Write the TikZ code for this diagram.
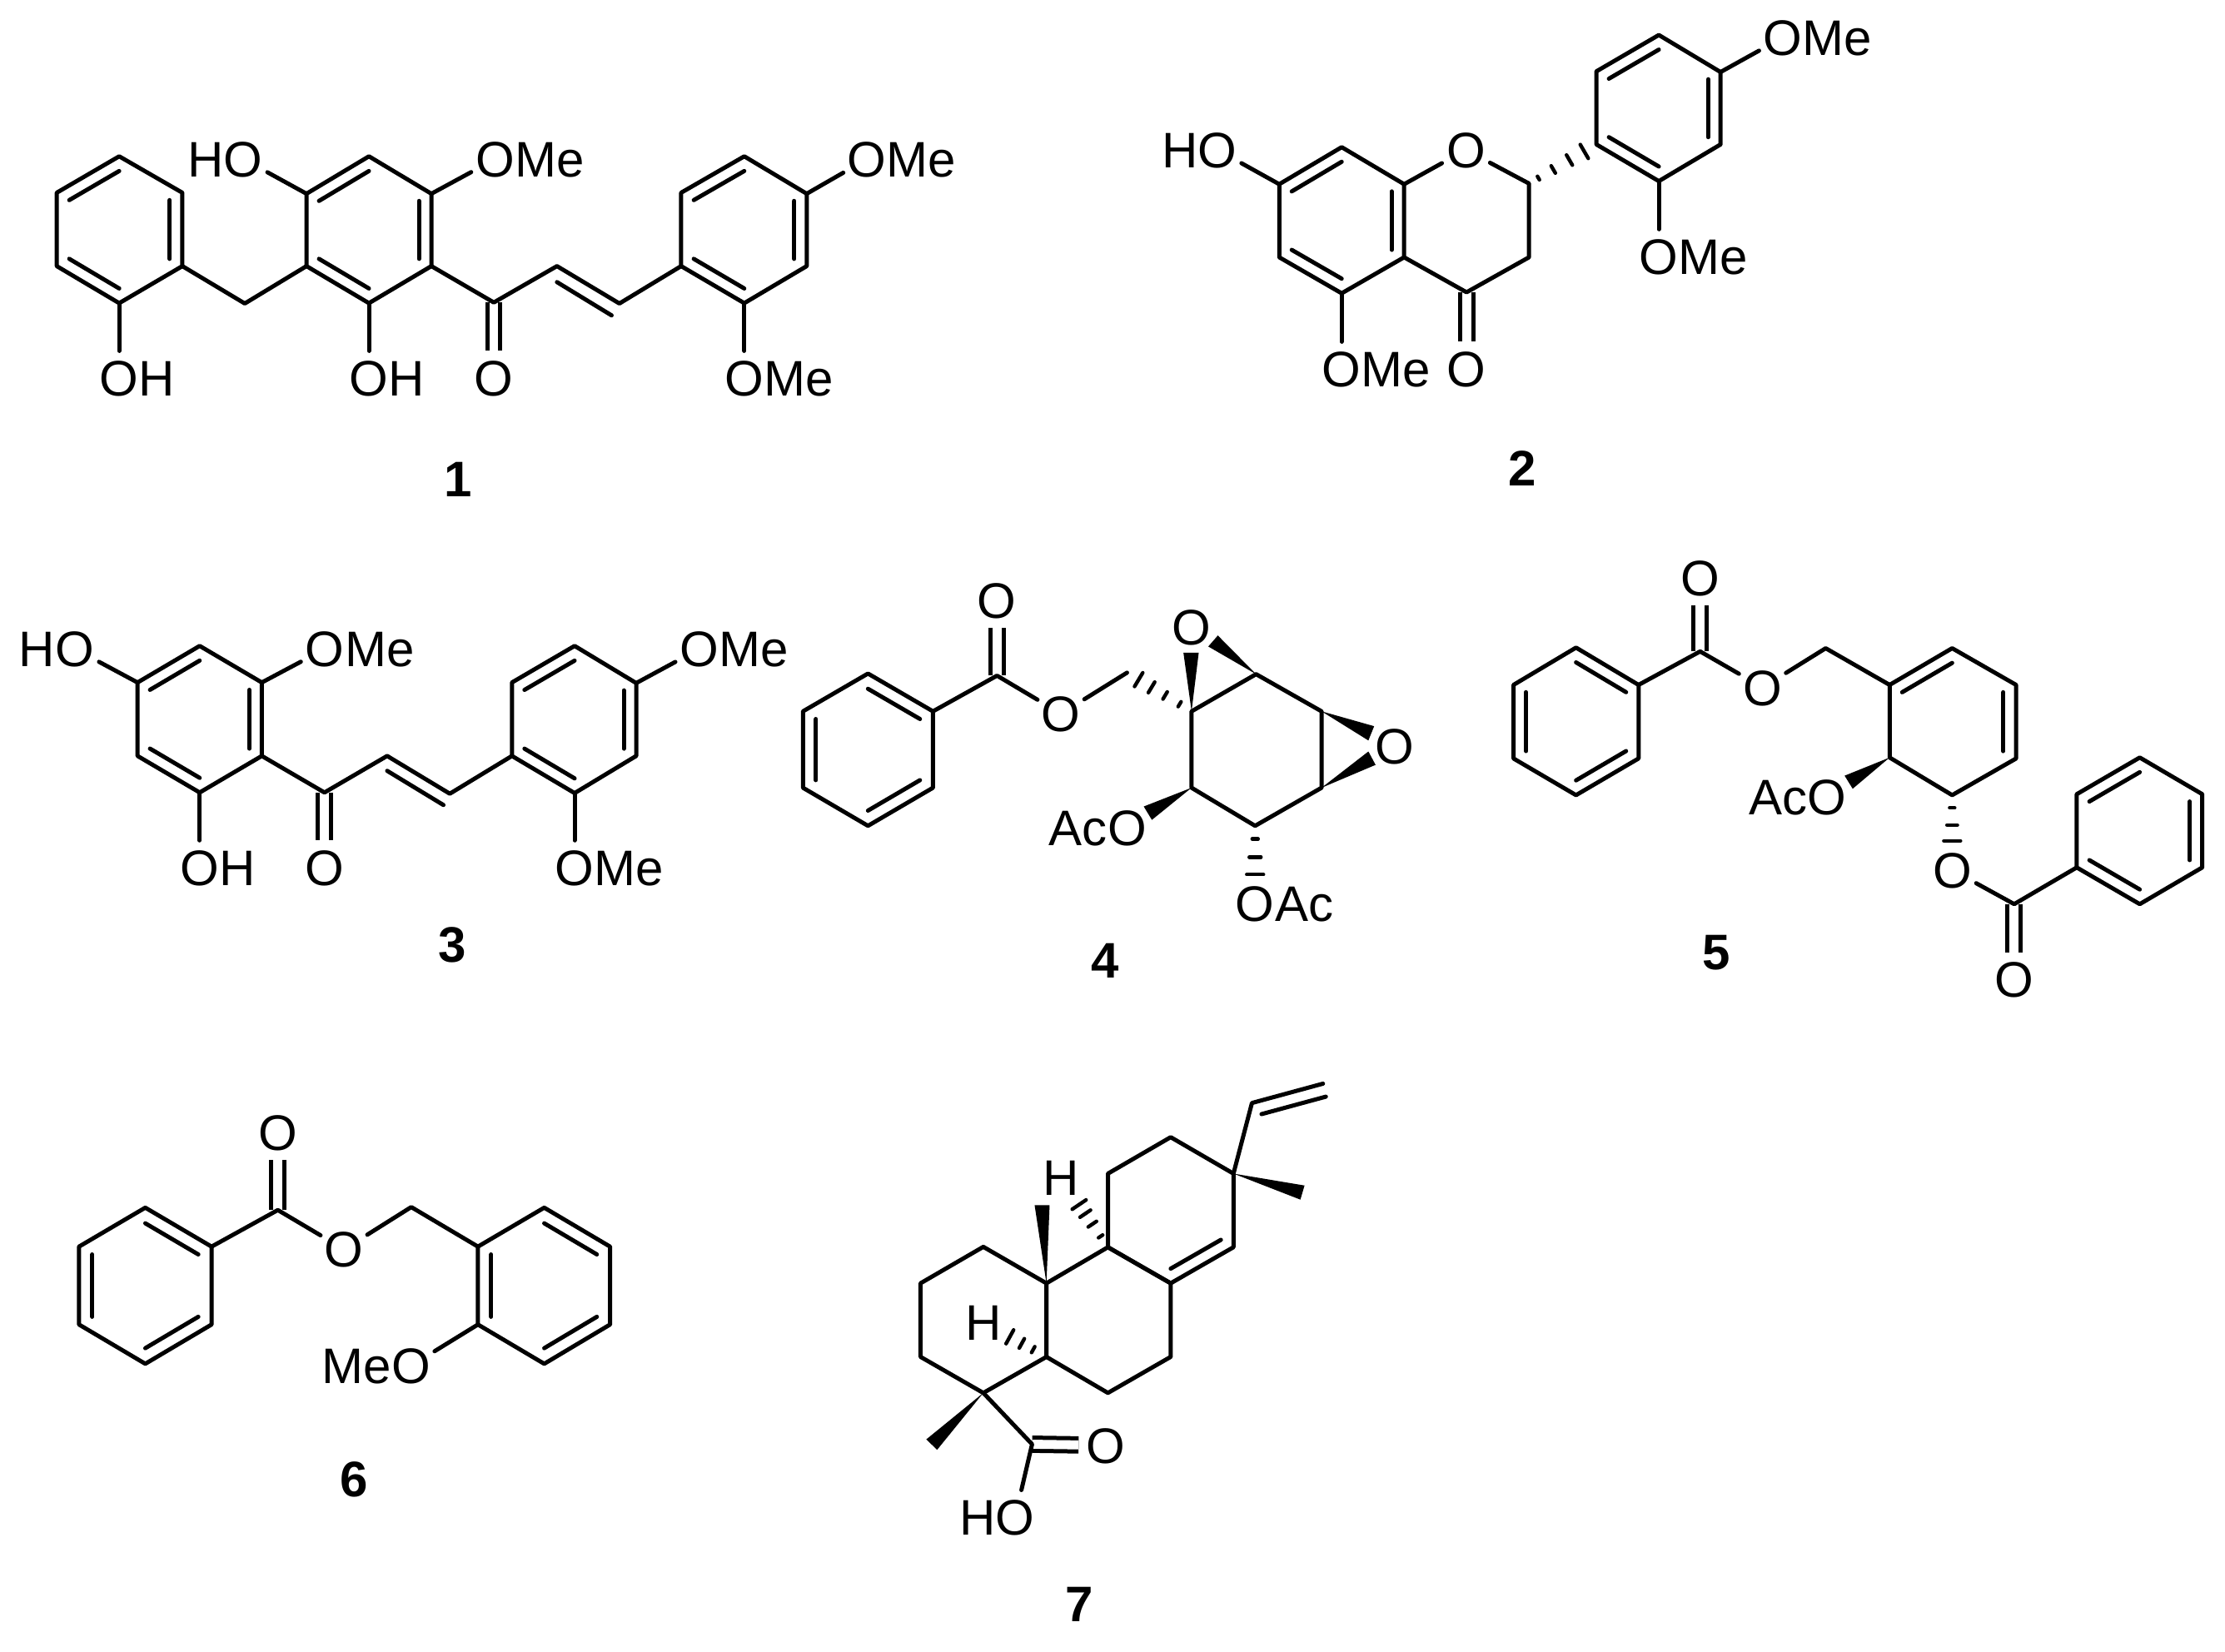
\documentclass[tikz,border=0pt]{standalone}
\usepackage{fontspec}
\setmainfont{Liberation Sans}
\usetikzlibrary{calc}
\tikzset{
  bond/.style={draw=black,line width=2.5pt,line cap=round,line join=round},
  hashstroke/.style={draw=black,line width=2.2pt,line cap=round},
  dblbond/.style={draw=black,line width=2.5pt,line cap=butt,double=white,double distance=5.4pt},
  atomlabel/.style={circle,inner sep=0pt,minimum size=32.5pt,text height=21.5pt,text depth=0pt,font=\fontsize{30pt}{36pt}\selectfont},
  suffixR/.style={anchor=base west,inner sep=0pt,font=\fontsize{30pt}{36pt}\selectfont},
  suffixL/.style={anchor=base east,inner sep=0pt,font=\fontsize{30pt}{36pt}\selectfont},
  numlabel/.style={inner sep=0pt,font=\fontsize{30pt}{36pt}\selectfont\bfseries}
}
% ring: prefix, then six vertices clockwise from a
\newcommand\ringat[7]{%
  \coordinate (#1a) at (#2);\coordinate (#1b) at (#3);\coordinate (#1c) at (#4);
  \coordinate (#1d) at (#5);\coordinate (#1e) at (#6);\coordinate (#1f) at (#7);
  \coordinate (#1m) at ($(#1a)!.5!(#1d)$);
  \draw[bond] (#1a)--(#1b)--(#1c)--(#1d)--(#1e)--(#1f)--cycle;}
\newcommand\inbond[3]{\draw[bond] ($(#1#2)!.2!(#1m)$)--($(#1#3)!.2!(#1m)$);}
\newcommand\hashbond[3]{\foreach \t/\w in {#3}{\draw[hashstroke] ($(#1)!\t!(#2)!\w!90:(#2)$)--($(#1)!\t!(#2)!\w!-90:(#2)$);}}
\newcommand\wedgebond[3]{\fill[black] (#1)--(#2)--(#3)--cycle;}
\newcommand\atomC[3]{\node[atomlabel] (#1) at (#2) {#3};}
\newcommand\atomR[4]{\node[atomlabel] (#1) at (#2) {#3};\node[suffixR] (#1s) at ([shift={(11.67pt,-10.75pt)}]#1.center) {#4};}
\newcommand\atomL[4]{\node[atomlabel] (#1) at (#2) {#3};\node[suffixL] (#1s) at ([shift={(-11.67pt,-10.75pt)}]#1.center) {#4};}
\begin{document}
\begin{tikzpicture}
\path[use as bounding box,fill=white] (0,0) rectangle (1336pt,-992pt);

% ---------- 1 ----------
\begin{scope}[x=.42602pt,y=-.20408pt]
\ringat{A}{168,460}{257,567}{257,783}{168,892}{80,783}{80,567}
\inbond{A}{a}{f}\inbond{A}{b}{c}\inbond{A}{d}{e}
\ringat{B}{520,460}{608,570}{608,783}{520,892}{432,783}{432,570}
\inbond{B}{a}{f}\inbond{B}{b}{c}\inbond{B}{d}{e}
\ringat{C}{1049,460}{1137,570}{1137,783}{1049,892}{960,783}{960,567}
\inbond{C}{a}{f}\inbond{C}{b}{c}\inbond{C}{d}{e}
\coordinate (m1ch) at (345,893);
\coordinate (m1co) at (696,890);
\coordinate (m1e1) at (785,783);
\coordinate (m1e2) at (873,893);
\coordinate (m1d1) at (785,830);
\coordinate (m1d2) at (862,928);
\atomR{m1oa}{168,1113}{O}{H}
\atomL{m1ob}{343,468}{O}{H}
\atomR{m1oc}{698,468}{O}{Me}
\atomR{m1od}{520,1113}{O}{H}
\atomC{m1oe}{696,1113}{O}
\atomR{m1of}{1222,468}{O}{Me}
\atomR{m1og}{1049,1113}{O}{Me}
\draw[dblbond] (m1co)--(m1oe);
\draw[bond] (Ac)--(m1ch)--(Be);
\draw[bond] (Ad)--(m1oa);
\draw[bond] (Bf)--(m1ob);
\draw[bond] (Bb)--(m1oc);
\draw[bond] (Bd)--(m1od);
\draw[bond] (Bc)--(m1co)--(m1e1)--(m1e2)--(Ce);
\draw[bond] (m1d1)--(m1d2);
\draw[bond] (Cb)--(m1of);
\draw[bond] (Cd)--(m1og);
\node[numlabel] (n1) at (646,1410) {1};
\end{scope}

% ---------- 2 ----------
\begin{scope}[shift={(668pt,0pt)},x=.42602pt,y=-.20408pt]
\ringat{D}{323,433}{411,542}{411,757}{323,863}{235,757}{235,542}
\inbond{D}{a}{f}\inbond{D}{b}{c}\inbond{D}{d}{e}
\ringat{E}{770,103}{857,212}{857,425}{770,533}{682,425}{682,210}
\inbond{E}{a}{f}\inbond{E}{b}{c}\inbond{E}{d}{e}
\coordinate (m2q1) at (587,540);
\coordinate (m2q2) at (587,757);
\coordinate (m2q3) at (499,860);
\atomL{m2oa}{148,441}{O}{H}
\atomC{m2ob}{498,441}{O}
\atomC{m2oc}{499,1086}{O}
\atomR{m2od}{323,1086}{O}{Me}
\atomR{m2oe}{945,110}{O}{Me}
\atomR{m2of}{770,755}{O}{Me}
\draw[dblbond] (m2q3)--(m2oc);
\draw[bond] (Df)--(m2oa);
\draw[bond] (Db)--(m2ob)--(m2q1)--(m2q2)--(m2q3)--(Dc);
\draw[bond] (Dd)--(m2od);
\draw[bond] (Eb)--(m2oe);
\draw[bond] (Ed)--(m2of);
\hashbond{m2q1}{Ee}{.14/1.2pt,.36/2.5pt,.6/3.5pt,.82/4.8pt}
\node[numlabel] (n2) at (578,1378) {2};
\end{scope}

% ---------- 3 ----------
\begin{scope}[shift={(0pt,-320pt)},x=.31888pt,y=-.17857pt]
\ringat{F}{376,380}{493,503}{493,750}{376,873}{259,750}{259,503}
\inbond{F}{a}{f}\inbond{F}{b}{c}\inbond{F}{d}{e}
\ringat{G}{1082,380}{1198,505}{1198,750}{1082,875}{964,750}{964,503}
\inbond{G}{a}{f}\inbond{G}{b}{c}\inbond{G}{d}{e}
\coordinate (m3co) at (611,873);
\coordinate (m3e1) at (729,750);
\coordinate (m3e2) at (847,877);
\coordinate (m3d1) at (729,800);
\coordinate (m3d2) at (835,915);
\atomL{m3oa}{141,390}{O}{H}
\atomR{m3ob}{612,390}{O}{Me}
\atomR{m3oc}{376,1126}{O}{H}
\atomC{m3od}{611,1126}{O}
\atomR{m3oe}{1317,390}{O}{Me}
\atomR{m3of}{1082,1126}{O}{Me}
\draw[dblbond] (m3co)--(m3od);
\draw[bond] (Ff)--(m3oa);
\draw[bond] (Fb)--(m3ob);
\draw[bond] (Fd)--(m3oc);
\draw[bond] (Fc)--(m3co)--(m3e1)--(m3e2)--(Ge);
\draw[bond] (m3d1)--(m3d2);
\draw[bond] (Gb)--(m3oe);
\draw[bond] (Gd)--(m3of);
\node[numlabel] (n3) at (852,1385) {3};
\end{scope}

% ---------- 4 ----------
\begin{scope}[shift={(450pt,-320pt)},x=.28699pt,y=-.17857pt]
\ringat{H}{248,473}{384,600}{384,857}{248,985}{112,857}{112,600}
\inbond{H}{a}{b}\inbond{H}{c}{d}\inbond{H}{e}{f}
\ringat{J}{1060,475}{1197,600}{1197,857}{1058,985}{925,857}{925,600}
\coordinate (m4co) at (518,480);
\coordinate (m4ch) at (790,470);
\atomC{m4oa}{518,228}{O}
\atomC{m4ob}{652,608}{O}
\atomC{m4oc}{924,317}{O}
\atomC{m4od}{1350,718}{O}
\atomL{m4oe}{790,990}{O}{Ac}
\atomR{m4of}{1058,1245}{O}{Ac}
\draw[dblbond] (m4co)--(m4oa);
\draw[bond] (Hb)--(m4co)--(m4ob)--(m4ch);
\hashbond{Jf}{m4ch}{.185/1.7pt,.41/2.5pt,.62/3.7pt,.82/4.8pt}
\wedgebond{Jf}{908,403}{940,403}
\wedgebond{Ja}{960,382}{980,345}
\wedgebond{Jb}{1307,650}{1295,698}
\wedgebond{Jc}{1295,735}{1310,780}
\wedgebond{Je}{825,920}{842,965}
\hashbond{Jd}{m4of}{.17/1.75pt,.405/3.5pt,.63/5pt}
\node[numlabel] (n4) at (745,1440) {4};
\end{scope}

% ---------- 5 ----------
\begin{scope}[shift={(890pt,-320pt)},x=.28444pt,y=-.19133pt]
\ringat{K}{198,360}{330,477}{330,708}{198,823}{66,708}{66,477}
\inbond{K}{a}{b}\inbond{K}{c}{d}\inbond{K}{e}{f}
\ringat{L}{992,362}{1127,477}{1127,708}{992,823}{860,705}{860,477}
\inbond{L}{a}{f}\inbond{L}{b}{c}
\ringat{M}{1388,705}{1520,820}{1520,1050}{1388,1165}{1255,1050}{1255,820}
\inbond{M}{a}{f}\inbond{M}{b}{c}\inbond{M}{d}{e}
\coordinate (m5co) at (460,372);
\coordinate (m5ch) at (725,362);
\coordinate (m5cp) at (1123,1165);
\atomC{m5oa}{460,142}{O}
\atomC{m5ob}{592,485}{O}
\atomL{m5oc}{728,828}{O}{Ac}
\atomC{m5od}{992,1058}{O}
\atomC{m5oe}{1123,1402}{O}
\draw[dblbond] (m5co)--(m5oa);
\draw[dblbond] (m5cp)--(m5oe);
\draw[bond] (Kb)--(m5co)--(m5ob)--(m5ch)--(Lf);
\draw[bond] (m5od)--(m5cp)--(Me);
\wedgebond{Le}{765,762}{782,803}
\hashbond{Ld}{m5od}{.17/1.5pt,.40/3.1pt,.61/5pt}
\node[numlabel] (n5) at (495,1318) {5};
\end{scope}

% ---------- 6 ----------
\begin{scope}[shift={(25pt,-640pt)},x=.2551pt,y=-.17857pt]
\ringat{N}{244,477}{400,608}{400,870}{244,1002}{88,870}{88,608}
\inbond{N}{a}{b}\inbond{N}{c}{d}\inbond{N}{e}{f}
\ringat{P}{1183,477}{1338,608}{1338,870}{1183,1002}{1027,870}{1027,608}
\inbond{P}{a}{b}\inbond{P}{c}{d}\inbond{P}{e}{f}
\coordinate (m6co) at (556,485);
\coordinate (m6ch) at (870,475);
\atomC{m6oa}{556,223}{O}
\atomC{m6ob}{712,617}{O}
\atomL{m6oc}{870,1008}{O}{Me}
\draw[dblbond] (m6co)--(m6oa);
\draw[bond] (Nb)--(m6co)--(m6ob)--(m6ch)--(Pf);
\draw[bond] (Pe)--(m6oc);
\node[numlabel] (n6) at (735,1390) {6};
\end{scope}

% ---------- 7 ----------
\begin{scope}[shift={(525pt,-640pt)},x=.19133pt,y=-.22321pt]
\ringat{Q}{342,487}{540,585}{540,783}{342,880}{145,783}{145,585}
\ringat{R}{733,488}{930,585}{930,783}{733,880}{540,783}{540,585}
\ringat{S}{930,192}{1127,290}{1127,488}{930,585}{733,488}{733,290}
\inbond{S}{c}{d}
\coordinate (m7v1) at (1185,100);
\coordinate (m7v2) at (1408,48);
\coordinate (m7d1) at (1215,130);
\coordinate (m7d2) at (1417,83);
\coordinate (m7co) at (495,1018);
\atomC{m7ha}{585,300}{H}
\atomC{m7hb}{342,690}{H}
\atomC{m7oa}{727,1021}{O}
\atomL{m7ob}{442,1213}{O}{H}
\draw[dblbond] (m7co)--(m7oa);
\draw[bond] (Sb)--(m7v1)--(m7v2);
\draw[bond] (m7d1)--(m7d2);
\draw[bond] (Qd)--(m7co)--(m7ob);
\wedgebond{Sb}{1350,322}{1337,360}
\wedgebond{Qb}{503,375}{550,375}
\wedgebond{Qd}{163,1005}{197,1033}
\hashbond{Ra}{m7ha}{.155/1.5pt,.33/3pt,.48/3.8pt,.61/5pt}
\hashbond{Qc}{m7hb}{.21/2pt,.39/3.2pt,.58/4.7pt}
\node[numlabel] (n7) at (643,1450) {7};
\end{scope}
\end{tikzpicture}
\end{document}
